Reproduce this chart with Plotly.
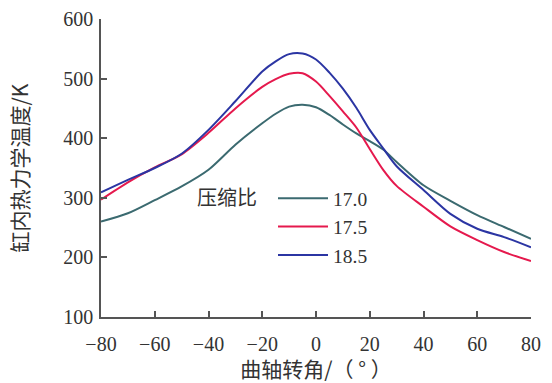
import plotly.graph_objects as go

crank_angle = [-80, -70, -60, -50, -40, -30, -20, -15, -10, -5, 0, 5, 10, 15, 20, 25, 30, 40, 50, 60, 70, 80]
temp_17_0 = [260, 274, 296, 319, 347, 389, 425, 441, 453, 456, 452, 439, 423, 408, 395, 381, 360, 321, 295, 271, 251, 231]
temp_17_5 = [297, 326, 351, 373, 409, 450, 486, 499, 508, 509, 495, 471, 445, 418, 382, 347, 320, 285, 252, 229, 209, 194]
temp_18_5 = [309, 330, 350, 374, 414, 462, 512, 529, 541, 542, 532, 510, 483, 451, 414, 383, 353, 313, 273, 248, 234, 217]

series_names = ["17.0", "17.5", "18.5"]
series_colors = ["#3b6a70", "#e5194d", "#2b35a3"]
x_ticks = [-80, -60, -40, -20, 0, 20, 40, 60, 80]
y_ticks = [100, 200, 300, 400, 500, 600]

SERIF = "Times New Roman, Liberation Serif, serif"
CJK = "Noto Sans CJK SC"

fig = go.Figure()
for name, ys, col in zip(series_names, [temp_17_0, temp_17_5, temp_18_5], series_colors):
    fig.add_trace(go.Scatter(x=crank_angle, y=ys, mode="lines", name=name,
                             legendgroup=name,
                             line=dict(color=col, width=2, shape="spline", smoothing=0.8)))

axis_common = dict(showgrid=False, zeroline=False, showline=True, linecolor="#555555",
                   linewidth=1.5, ticks="inside", ticklen=6, tickwidth=1.5, tickcolor="#555555",
                   mirror=False, automargin=False,
                   tickfont=dict(family=SERIF, size=20, color="#333333"))

fig.update_xaxes(range=[-80, 80], tickvals=x_ticks, ticktext=[("−" + str(-v)) if v < 0 else str(v) for v in x_ticks],
                 ticklabelstandoff=8,
                 title=dict(text="曲轴转角/（ ° ）", font=dict(family=CJK, size=21, color="#333333"), standoff=11),
                 **axis_common)
fig.update_yaxes(range=[100, 600], tickvals=y_ticks, ticklabelstandoff=2,
                 title=dict(text="缸内热力学温度/K", font=dict(family=CJK, size=21, color="#333333"), standoff=29),
                 **axis_common)

fig.add_annotation(text="压缩比", xref="paper", yref="paper", x=0.218, y=0.405, xanchor="left", yanchor="middle",
                   showarrow=False, font=dict(family=CJK, size=20, color="#333333"))

fig.update_layout(
    width=552, height=383,
    margin=dict(l=101, r=21, t=19, b=66),
    plot_bgcolor="white", paper_bgcolor="white",
    showlegend=True,
    legend=dict(x=0.40, y=0.463, xanchor="left", yanchor="top", bgcolor="rgba(0,0,0,0)",
                itemwidth=50,
                font=dict(family=SERIF, size=19.5, color="#333333"), tracegroupgap=0),
)

fig.write_html("out.html", config={"displayModeBar": False},
               post_script="document.body.style.margin='0';document.body.style.padding='0';")
